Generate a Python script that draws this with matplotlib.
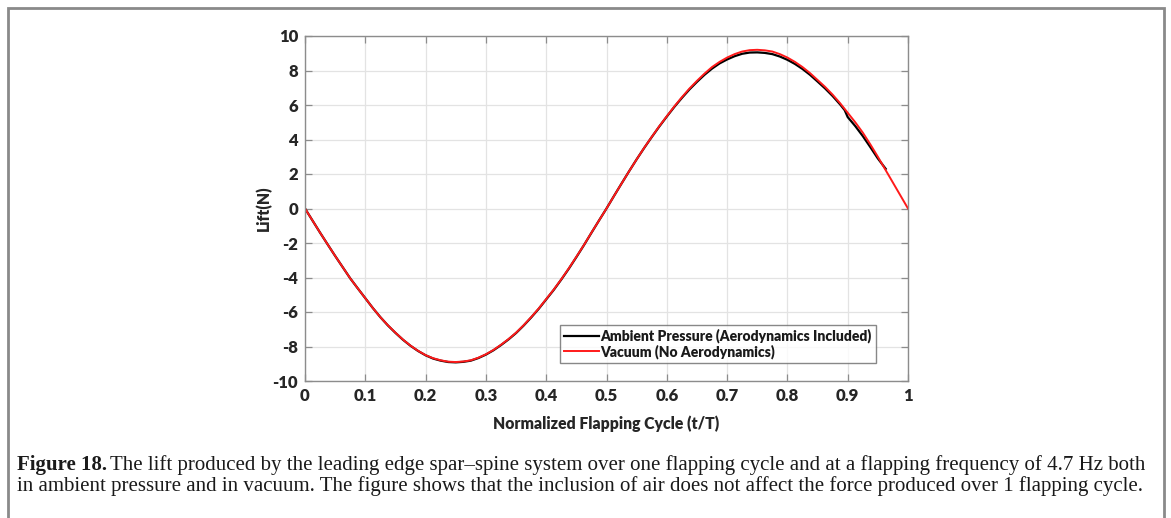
import matplotlib
matplotlib.use("Agg")
import matplotlib.pyplot as plt
from matplotlib.patches import Rectangle

plt.rcParams["axes.unicode_minus"] = False

# Data
t_vac = [0.0, 0.0125, 0.025, 0.0375, 0.05, 0.0625, 0.075, 0.0875, 0.1, 0.1125,
         0.125, 0.1375, 0.15, 0.1625, 0.175, 0.1875, 0.2, 0.2125, 0.225, 0.2375,
         0.25, 0.2625, 0.275, 0.2875, 0.3, 0.3125, 0.325, 0.3375, 0.35, 0.3625,
         0.375, 0.3875, 0.4, 0.4125, 0.425, 0.4375, 0.45, 0.4625, 0.475, 0.4875,
         0.5, 0.5125, 0.525, 0.5375, 0.55, 0.5625, 0.575, 0.5875, 0.6, 0.6125,
         0.625, 0.6375, 0.65, 0.6625, 0.675, 0.6875, 0.7, 0.7125, 0.725, 0.7375,
         0.75, 0.7625, 0.775, 0.7875, 0.8, 0.8125, 0.825, 0.8375, 0.85, 0.8625,
         0.875, 0.8875, 0.9, 0.9125, 0.925, 0.9375, 0.95, 0.9625, 0.975, 0.9875,
         1.0]
lift_vac = [0.0, -0.7, -1.4, -2.08, -2.75, -3.4, -4.05, -4.63, -5.2, -5.77,
            -6.3, -6.77, -7.2, -7.6, -7.95, -8.25, -8.5, -8.68, -8.8, -8.88,
            -8.9, -8.87, -8.8, -8.65, -8.45, -8.2, -7.9, -7.57, -7.2, -6.77,
            -6.3, -5.8, -5.25, -4.7, -4.1, -3.47, -2.8, -2.12, -1.4, -0.7,
            0.0, 0.73, 1.45, 2.16, 2.85, 3.52, 4.15, 4.77, 5.35, 5.92,
            6.45, 6.95, 7.4, 7.82, 8.2, 8.5, 8.75, 8.95, 9.1, 9.18,
            9.2, 9.17, 9.1, 8.95, 8.75, 8.5, 8.2, 7.85, 7.45, 7.05,
            6.6, 6.1, 5.55, 5.0, 4.4, 3.72, 3.0, 2.25, 1.5, 0.75,
            0.0]

t_amb = [0.0, 0.0125, 0.025, 0.0375, 0.05, 0.0625, 0.075, 0.0875, 0.1, 0.1125,
         0.125, 0.1375, 0.15, 0.1625, 0.175, 0.1875, 0.2, 0.2125, 0.225, 0.2375,
         0.25, 0.2625, 0.275, 0.2875, 0.3, 0.3125, 0.325, 0.3375, 0.35, 0.3625,
         0.375, 0.3875, 0.4, 0.4125, 0.425, 0.4375, 0.45, 0.4625, 0.475, 0.4875,
         0.5, 0.5125, 0.525, 0.5375, 0.55, 0.5625, 0.575, 0.5875, 0.6, 0.6125,
         0.625, 0.6375, 0.65, 0.6625, 0.675, 0.6875, 0.7, 0.7125, 0.725, 0.7375,
         0.75, 0.7625, 0.775, 0.7875, 0.8, 0.8125, 0.825, 0.8375, 0.85, 0.8625,
         0.875, 0.8875, 0.895, 0.9, 0.9125, 0.925, 0.9375, 0.95, 0.963]
lift_amb = [0.0, -0.7, -1.4, -2.08, -2.75, -3.4, -4.05, -4.63, -5.2, -5.77,
            -6.3, -6.78, -7.21, -7.61, -7.96, -8.26, -8.51, -8.7, -8.82, -8.9,
            -8.92, -8.89, -8.82, -8.67, -8.47, -8.22, -7.92, -7.59, -7.22, -6.79,
            -6.32, -5.82, -5.27, -4.72, -4.12, -3.49, -2.82, -2.13, -1.41, -0.7,
            0.0, 0.73, 1.45, 2.16, 2.85, 3.51, 4.14, 4.75, 5.33, 5.89,
            6.41, 6.9, 7.34, 7.75, 8.11, 8.41, 8.64, 8.83, 8.97, 9.04,
            9.05, 9.02, 8.95, 8.81, 8.62, 8.38, 8.09, 7.75, 7.36, 6.96,
            6.52, 6.03, 5.7, 5.3, 4.78, 4.2, 3.56, 2.9, 2.3]

xticks = [0, 0.1, 0.2, 0.3, 0.4, 0.5, 0.6, 0.7, 0.8, 0.9, 1]
xticklabels = ["0", "0.1", "0.2", "0.3", "0.4", "0.5", "0.6", "0.7", "0.8", "0.9", "1"]
yticks = [-10, -8, -6, -4, -2, 0, 2, 4, 6, 8, 10]

W, H = 1171, 518
fig = plt.figure(figsize=(W / 100, H / 100), dpi=100)
fig.patch.set_facecolor("white")

# outer frame
fig.patches.append(Rectangle((8 / W, -0.01), (1164 - 8) / W, 1 - 8 / H + 0.01,
                             transform=fig.transFigure, fill=False,
                             edgecolor="#8a8a8a", linewidth=2.0))

FONT = "Lato"
ax = fig.add_axes([305 / W, 1 - 381 / H, (908 - 305) / W, (381 - 36) / H])
ax.plot(t_amb, lift_amb, color="black", linewidth=1.6,
        label="Ambient Pressure (Aerodynamics Included)")
ax.plot(t_vac, lift_vac, color="#ff1a1a", linewidth=1.4,
        label="Vacuum (No Aerodynamics)")

ax.set_xlim(0, 1)
ax.set_ylim(-10, 10)
ax.set_xticks(xticks)
ax.set_xticklabels(xticklabels)
ax.set_yticks(yticks)
ax.grid(True, color="#e3e3e3", linewidth=0.9)
ax.set_axisbelow(True)
for s in ax.spines.values():
    s.set_color("#8c8c8c")
    s.set_linewidth(1.0)
ax.tick_params(direction="in", top=True, right=True, length=5, width=0.9,
               color="#8c8c8c", labelsize=12, labelcolor="#262626")
ax.tick_params(axis="x", pad=5)
ax.tick_params(axis="y", pad=5)
for lab in ax.get_xticklabels() + ax.get_yticklabels():
    lab.set_fontweight("heavy")
    lab.set_family(FONT)

ax.set_xlabel("Normalized Flapping Cycle (t/T)", fontsize=11.3, fontweight="heavy",
              family=FONT, color="#262626", labelpad=8)
ax.set_ylabel("Lift(N)", fontsize=11.3, fontweight="heavy", family=FONT,
              color="#262626", labelpad=0)

leg = ax.legend(loc="lower right", bbox_to_anchor=(0.947, 0.053),
                prop={"family": FONT, "weight": "heavy", "size": 10},
                frameon=True, fancybox=False, edgecolor="#6a6a6a",
                handlelength=2.5, handletextpad=0.15, borderpad=0.3,
                labelspacing=0.05, borderaxespad=0.0)
leg.get_frame().set_linewidth(1.0)
for txt in leg.get_texts():
    txt.set_color("#1a1a1a")

# caption
cap_font = dict(family="Liberation Serif", fontsize=15, color="#1a1a1a")
t1 = fig.text(17 / W, 1 - 465 / H, "Figure 18.", fontweight="bold", va="center",
              **cap_font)
fig.canvas.draw()
bb = t1.get_window_extent()
fig.text(bb.x1 / W + 3 / W, 1 - 465 / H,
         "The lift produced by the leading edge spar\u2013spine system over one flapping cycle and at a flapping frequency of 4.7 Hz both",
         va="center", **cap_font)
fig.text(17 / W, 1 - 486 / H,
         "in ambient pressure and in vacuum. The figure shows that the inclusion of air does not affect the force produced over 1 flapping cycle.",
         va="center", **cap_font)

fig.savefig("out.png", dpi=100)
